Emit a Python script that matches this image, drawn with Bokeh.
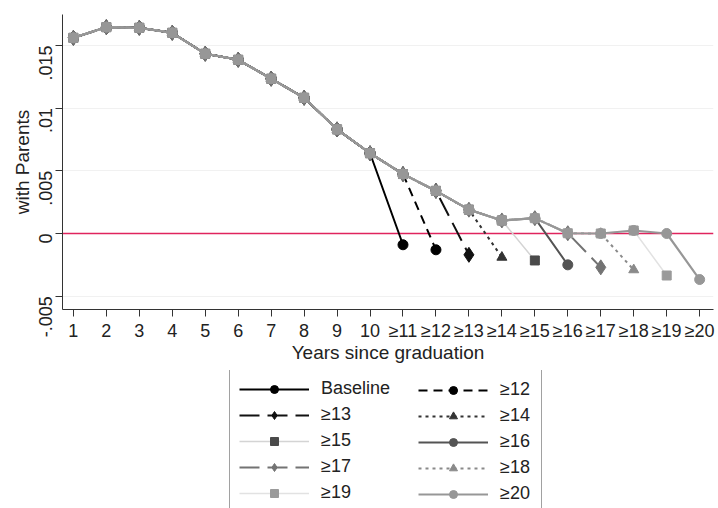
import math
from bokeh.plotting import figure
from bokeh.layouts import column
from bokeh.models import FixedTicker, Legend, LegendItem, Span, Range1d
from bokeh.embed import file_html
from bokeh.resources import INLINE

# ---- data ----
x_positions = list(range(1, 21))
x_labels = ["1", "2", "3", "4", "5", "6", "7", "8", "9", "10",
            "≥11", "≥12", "≥13", "≥14", "≥15", "≥16", "≥17", "≥18", "≥19", "≥20"]
# common path (positions 1 .. 19)
path_values = [0.0156, 0.01645, 0.0164, 0.0160, 0.01433, 0.01385, 0.01234, 0.01082,
               0.0083, 0.0064, 0.00474, 0.0034, 0.0019, 0.00104, 0.00122,
               0.00002, 0.0000, 0.00024, 0.0000]
# end points of each series (at positions 11 .. 20)
series_names = ["Baseline", "≥12", "≥13", "≥14", "≥15", "≥16", "≥17", "≥18", "≥19", "≥20"]
end_values = [-0.0009, -0.0013, -0.0017, -0.0019, -0.00215, -0.0025, -0.0027, -0.0029, -0.00335, -0.00367]

y_ticks = [-0.005, 0.0, 0.005, 0.01, 0.015]
y_tick_labels = ["-.005", "0", ".005", ".01", ".015"]

# ---- styles ----
line_colors = ["#000000", "#000000", "#111111", "#333333", "#d4d4d4",
               "#545454", "#737373", "#8a8a8a", "#e2e2e2", "#979797"]
marker_colors = ["#000000", "#000000", "#111111", "#333333", "#4a4a4a",
                 "#545454", "#737373", "#8a8a8a", "#9a9a9a", "#979797"]
dashes = ["solid", "9 6", "20 8", "3 4", "solid", "solid", "20 8", "3 4", "solid", "solid"]
markers = ["circle", "circle", "diamond", "triangle", "square",
           "circle", "diamond", "triangle", "square", "circle"]
msizes = [10, 10, 15, 10, 9, 10, 15, 10, 9, 10]
lwidths = [2, 2, 2, 2, 1.5, 2, 2, 2, 1.5, 2.2]

FONT = "Liberation Sans"


def series_xy(i):
    k = 11 + i
    xs = x_positions[:k - 1] + [x_positions[k - 1]]
    ys = path_values[:k - 1] + [end_values[i]]
    return xs, ys


def add_series(fig, i):
    xs, ys = series_xy(i)
    lr = fig.line(xs, ys, line_color=line_colors[i], line_width=lwidths[i], line_dash=dashes[i])
    sr = fig.scatter(xs, ys, marker=markers[i], size=msizes[i],
                     fill_color=marker_colors[i], line_color=marker_colors[i])
    return lr, sr


# ---------------- main chart ----------------
p = figure(width=718, height=370, output_backend="svg", toolbar_location=None,
           x_range=Range1d(0.67, 20.42), y_range=Range1d(-0.00606, 0.01746),
           min_border_left=62, min_border_top=14, min_border_right=5,
           min_border_bottom=61)
p.outline_line_color = None
p.background_fill_color = "white"
p.border_fill_color = "white"

p.xgrid.grid_line_color = None
p.ygrid.grid_line_color = "#f1f1f1"
p.ygrid.ticker = FixedTicker(ticks=y_ticks)

zero = Span(location=0, dimension="width", line_color="#e0245e", line_width=1.6, level="underlay")
p.add_layout(zero)

for i in range(len(series_names)):
    add_series(p, i)

# axes
p.xaxis.ticker = FixedTicker(ticks=x_positions)
p.xaxis.major_label_overrides = {x: l for x, l in zip(x_positions, x_labels)}
p.yaxis.ticker = FixedTicker(ticks=y_ticks)
p.yaxis.major_label_overrides = {t: l for t, l in zip(y_ticks, y_tick_labels)}
p.yaxis.major_label_orientation = math.pi / 2
p.xaxis.axis_label = "Years since graduation"
p.yaxis.axis_label = "with Parents"
for ax in (p.xaxis, p.yaxis):
    ax.axis_line_color = "#333333"
    ax.major_tick_line_color = "#333333"
    ax.major_tick_out = 7
    ax.major_tick_in = 0
    ax.minor_tick_line_color = None
    ax.major_label_text_font = FONT
    ax.major_label_text_font_size = "18px"
    ax.major_label_text_color = "#222222"
    ax.axis_label_text_font = FONT
    ax.axis_label_text_font_size = "19px"
    ax.axis_label_text_font_style = "normal"
    ax.axis_label_text_color = "#222222"
p.xaxis.major_label_standoff = 4
p.yaxis.major_label_standoff = 10
p.xaxis.axis_label_standoff = -2
p.yaxis.axis_label_standoff = -3

# ---------------- legend panel ----------------
# same horizontal borders as the chart, so both frames line up (x 62..713 of the page)
lp = figure(width=718, height=138, output_backend="svg", toolbar_location=None,
            x_range=Range1d(-10, -9), y_range=Range1d(-10, -9),
            x_axis_type=None, y_axis_type=None,
            min_border_left=62, min_border_right=5, min_border_top=0, min_border_bottom=0)
lp.outline_line_color = None
lp.grid.visible = False
lp.background_fill_color = "white"
lp.border_fill_color = "white"

items = {}
for i, name in enumerate(series_names):
    # same data; it lies outside this panel's ranges, so only the legend shows
    lr, sr = add_series(lp, i)
    items[name] = LegendItem(label=name, renderers=[lr, sr])

col1 = ["Baseline", "≥13", "≥15", "≥17", "≥19"]
col2 = ["≥12", "≥14", "≥16", "≥18", "≥20"]


def make_legend(names, loc, label_width, border):
    lg = Legend(items=[items[n] for n in names], location=loc)
    lg.label_text_font = FONT
    lg.label_text_font_size = "18px"
    lg.label_text_color = "#222222"
    lg.glyph_width = 70
    lg.glyph_height = 20
    lg.label_height = 20
    lg.label_width = label_width
    lg.label_standoff = 12
    lg.spacing = 5
    lg.padding = 9
    lg.margin = 0
    if border:
        lg.border_line_color = "#444444"
        lg.border_line_width = 1
        lg.background_fill_color = "white"
    else:
        lg.border_line_color = None
        lg.background_fill_alpha = 0
    return lg


lp.add_layout(make_legend(col1, (167, -5), 211, True))
lp.add_layout(make_legend(col2, (356, 4), 32, False))

layout = column(p, lp, spacing=0)
open("out.html", "w").write(file_html(layout, INLINE))
